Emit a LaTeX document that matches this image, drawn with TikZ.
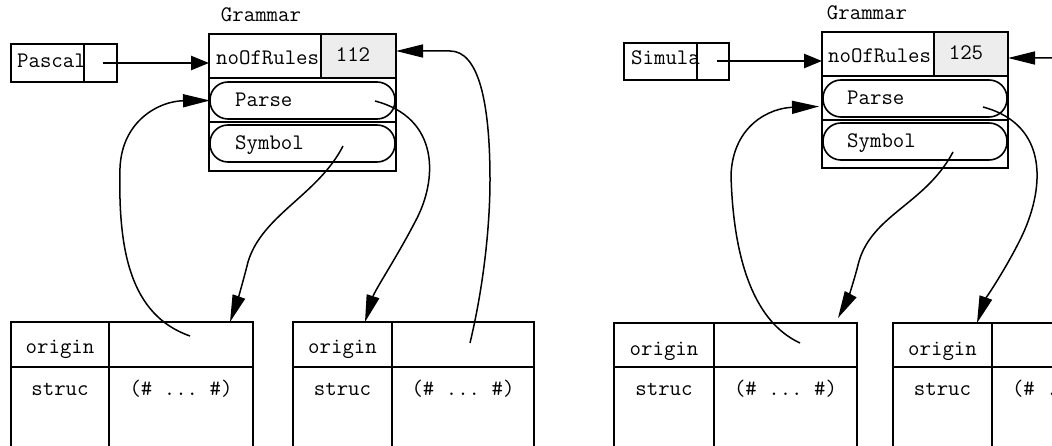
\documentclass[tikz,border=0pt]{standalone}
\usepackage{fontspec}
\setmonofont{Latin Modern Mono}
\usetikzlibrary{arrows.meta}
\newcommand{\mymono}{\ttfamily\fontsize{22.2pt}{24pt}\selectfont}
\tikzset{
  stbox/.style={draw, line width=2pt, inner sep=0pt, outer sep=0pt, anchor=north west},
  thickbox/.style={stbox, line width=2.4pt},
  valcell/.style={stbox, fill=black!7},
  pill/.style={draw, line width=1.6pt, rounded corners=18pt, inner sep=0pt, outer sep=0pt,
               anchor=north west, minimum height=37pt},
  lbl/.style={font=\mymono, inner sep=0pt, anchor=base west},
  clbl/.style={font=\mymono, inner sep=0pt, anchor=base},
  ptr/.style={line width=1.5pt, -{Triangle[length=27pt,width=13pt]}},
  refptr/.style={line width=2.5pt, -{Triangle[length=18pt,width=14pt]}},
}
\begin{document}
\begin{tikzpicture}[x=1pt,y=-1pt]
\useasboundingbox (0,0) rectangle (1052,446);
\clip (0,0) rectangle (1052,446);

% ================= left group =================
\node[clbl] (gname1) at (261,22) {Grammar};
\node[thickbox, minimum width=73pt, minimum height=38pt] (pk) at (11,44) {};
\node[thickbox, minimum width=33pt, minimum height=38pt] (pv) at (84,44) {};
\node[lbl] (pascal) at (17,68) {Pascal};

\node[stbox, minimum width=187pt, minimum height=44pt] (g1) at (209,34) {};
\node[valcell, minimum width=75pt, minimum height=44pt] (val1) at (321,34) {};
\node[stbox, minimum width=187pt, minimum height=44pt] (g2) at (209,78) {};
\node[stbox, minimum width=187pt, minimum height=49pt] (g3) at (209,122) {};
\node[pill, minimum width=185pt] (parse1) at (210,82) {};
\node[pill, minimum width=185pt] (symbol1) at (210,125) {};
\node[lbl] (nr1) at (216,65) {noOfRules};
\node[clbl] (v1) at (353,62) {112};
\node[lbl] (pt1) at (235,107) {Parse};
\node[lbl] (st1) at (235,150) {Symbol};

\node[thickbox, minimum width=98pt, minimum height=45pt] (o1k) at (11,322) {};
\node[thickbox, minimum width=144pt, minimum height=45pt] (o1v) at (109,322) {};
\node[thickbox, minimum width=98pt, minimum height=110pt] (s1k) at (11,367) {};
\node[thickbox, minimum width=144pt, minimum height=110pt] (s1v) at (109,367) {};
\node[clbl] (ot1) at (60,353) {origin};
\node[clbl] (sk1) at (60,395) {struc};
\node[clbl] (sv1) at (181,395) {(\# ... \#)};

\node[thickbox, minimum width=99pt, minimum height=45pt] (o2k) at (293,322) {};
\node[thickbox, minimum width=142pt, minimum height=45pt] (o2v) at (392,322) {};
\node[thickbox, minimum width=99pt, minimum height=110pt] (s2k) at (293,367) {};
\node[thickbox, minimum width=142pt, minimum height=110pt] (s2v) at (392,367) {};
\node[clbl] (ot2) at (342.5,353) {origin};
\node[clbl] (sk2) at (342.5,395) {struc};
\node[clbl] (sv2) at (463,395) {(\# ... \#)};

\coordinate (pp1) at (103,63);
\coordinate (c1) at (190,336);
\coordinate (ps1) at (375,101);
\coordinate (sy1) at (343,146);
\coordinate (c2) at (470,343);

\draw[refptr] (pp1) -- (pp1 -| g1.west);
\draw[ptr] (c1) .. controls (130,315) and (118,250) .. (120,168)
  .. controls (122,120) and (160,101) .. (parse1.west);
\draw[ptr] (sy1) .. controls (318,195) and (262,215) .. (248,262)
  .. controls (243,282) and (237,302) .. ([xshift=-23pt]o1v.north east);
\draw[ptr] (ps1) .. controls (440,118) and (438,180) .. (415,222)
  .. controls (398,255) and (375,290) .. ([xshift=-27pt]o2k.north east);
\draw[ptr] (c2) .. controls (485,280) and (490,220) .. (490,180)
  .. controls (490,100) and (478,51) .. (450,51) -- ([yshift=5pt]val1.east);

% ================= right group =================
\node[clbl] (gname2) at (867,20) {Grammar};
\node[thickbox, minimum width=73pt, minimum height=37pt] (sk) at (624,43) {};
\node[thickbox, minimum width=32pt, minimum height=37pt] (sv) at (697,43) {};
\node[lbl] (simula) at (631,65) {Simula};

\node[stbox, minimum width=186pt, minimum height=44pt] (h1) at (822,32) {};
\node[valcell, minimum width=74pt, minimum height=44pt] (val2) at (934,32) {};
\node[stbox, minimum width=186pt, minimum height=44pt] (h2) at (822,76) {};
\node[stbox, minimum width=186pt, minimum height=48pt] (h3) at (822,120) {};
\node[pill, minimum width=184pt] (parse2) at (823,80) {};
\node[pill, minimum width=184pt] (symbol2) at (823,123) {};
\node[lbl] (nr2) at (828,63) {noOfRules};
\node[clbl] (v2) at (966,60) {125};
\node[lbl] (pt2) at (847,105) {Parse};
\node[lbl] (st2) at (847,148) {Symbol};

\node[thickbox, minimum width=100pt, minimum height=44pt] (o3k) at (614,323) {};
\node[thickbox, minimum width=143pt, minimum height=44pt] (o3v) at (714,323) {};
\node[thickbox, minimum width=100pt, minimum height=110pt] (s3k) at (614,367) {};
\node[thickbox, minimum width=143pt, minimum height=110pt] (s3v) at (714,367) {};
\node[clbl] (ot3) at (664,355) {origin};
\node[clbl] (sk3) at (664,395) {struc};
\node[clbl] (sv3) at (785.5,395) {(\# ... \#)};

\node[thickbox, minimum width=99pt, minimum height=44pt] (o4k) at (893,323) {};
\node[thickbox, minimum width=143pt, minimum height=44pt] (o4v) at (992,323) {};
\node[thickbox, minimum width=99pt, minimum height=110pt] (s4k) at (893,367) {};
\node[thickbox, minimum width=143pt, minimum height=110pt] (s4v) at (992,367) {};
\node[clbl] (ot4) at (942.5,355) {origin};
\node[clbl] (sk4) at (942.5,395) {struc};
\node[clbl] (sv4) at (1063.5,395) {(\# ... \#)};

\coordinate (pp2) at (717,61);
\coordinate (c3) at (800,343);
\coordinate (ps2) at (983,107);
\coordinate (sy2) at (953,152);
\coordinate (c4) at (1070,344);

\draw[refptr] (pp2) -- (pp2 -| h1.west);
\draw[ptr] (c3) .. controls (750,320) and (733,250) .. (731,175)
  .. controls (733,125) and (770,108) .. ([xshift=-4pt,yshift=-8pt]parse2.west);
\draw[ptr] (sy2) .. controls (925,205) and (870,215) .. (858,265)
  .. controls (853,285) and (846,303) .. ([xshift=-19pt,yshift=5pt]o3v.north east);
\draw[ptr] (ps2) .. controls (1050,125) and (1045,190) .. (1020,240)
  .. controls (1005,270) and (985,300) .. ([xshift=-15pt]o4k.north east);
\draw[ptr] (c4) .. controls (1085,280) and (1092,220) .. (1092,180)
  .. controls (1092,100) and (1085,58) .. (1063,58) -- ([yshift=-4pt]val2.east);
\end{tikzpicture}
\end{document}
